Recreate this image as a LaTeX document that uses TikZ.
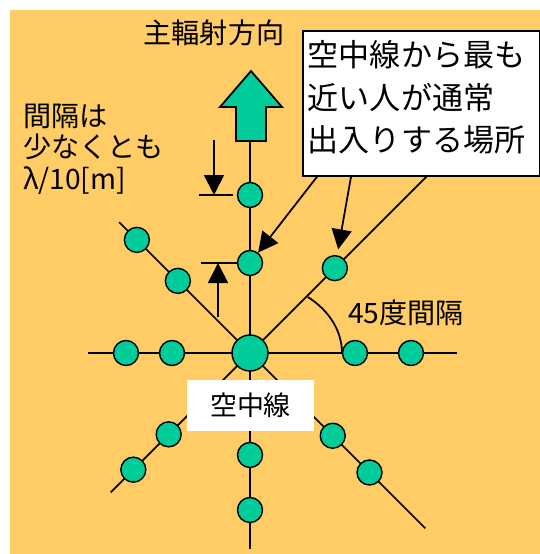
\documentclass[tikz,border=0pt]{standalone}
\usepackage{fontspec}
\setmainfont{Noto Sans CJK JP}
\usetikzlibrary{arrows.meta, calc}
\definecolor{BgOrange}{HTML}{FFCC66}
\definecolor{ElemGreen}{HTML}{00CC99}

\begin{document}
\begin{tikzpicture}[x=0.03cm, y=0.03cm,
            elem/.style={circle, draw=black, fill=ElemGreen, line width=1.2pt, minimum size=0.75cm, inner sep=0pt},
            ray/.style={line width=1.5pt},
            arrow/.style={-{Triangle[length=0.6cm, width=0.6cm]}, line width=1.5pt},
            lbl/.style={inner sep=0pt, font=\fontsize{24}{27}\selectfont},
            note/.style={draw=black, fill=white, line width=1.5pt, inner xsep=0.15cm, inner ysep=0.3cm, anchor=north west}
        ]
            % Background
            \useasboundingbox (0,0) rectangle (540,-554);
            \fill[BgOrange] (10,-10) rectangle (540,-554);
            
            % Rays
            \coordinate (hub) at (250,-353);
            \foreach \ang/\len in {0/207, 45/260, 90/212, 135/185, 180/162, 225/197, 270/196, 315/248}
                \draw[ray] (hub) -- ++(\ang:\len);
            
            % 45 degree arc
            \draw[ray] (hub) ++(92,0) arc[start angle=0, end angle=51, x radius=92, y radius=72];
            
            % Main direction arrow
            \draw[ray, fill=ElemGreen] (236,-141) -- (266,-141) -- (266,-107) -- (282,-107) -- (251,-71) -- (220,-107) -- (236,-107) -- cycle;
            
            % Elements
            \foreach \name/\ang/\r in {t1/90/158, t2/90/90, ne1/45/120, e1/0/105, e2/0/161, w1/180/78, w2/180/124, nw1/135/102, nw2/135/160, sw1/225/115, sw2/225/165, se1/315/117, se2/315/169, s1/270/102, s2/270/157}
                \node[elem] (\name) at ($(hub)+(\ang:\r)$) {};
            \node[elem, minimum size=1.08cm] (ant) at (hub) {};
            
            % Labels
            \node[fill=white, minimum width=3.81cm, minimum height=1.53cm, font=\fontsize{23}{27}\selectfont] (antlbl) at (250.5,-405.5) {空中線};
            \node[note] (note) at (302,-30) {\parbox[t][3.75cm][t]{6.8cm}{\fontsize{26.5}{36}\selectfont 空中線から最も\\近い人が通常\\出入りする場所}};
            \node[lbl] (mainlbl) at (214,-33) {主輻射方向};
            \node[lbl, anchor=west, align=left] (spacing) at (23,-149) {間隔は\\少なくとも\\λ/10[m]};
            \node[lbl, anchor=west] (angle) at (348,-313) {45度間隔};
            
            % Pointers
            \draw[arrow] ($(note.south west)+(15,0)$) -- (t2);
            \draw[arrow, shorten >=5pt] ($(note.south west)+(49,0)$) -- (ne1);
            
            % Spacing marks
            \draw[ray] ($(t1)+(-51,0)$) -- ($(t1)+(-17,0)$);
            \draw[arrow] ($(t1)+(-36,55)$) -- ($(t1)+(-36,0)$);
            \draw[ray] ($(t2)+(-49,0)$) -- ($(t2)+(-12,0)$);
            \draw[arrow] ($(t2)+(-32,-54)$) -- ($(t2)+(-32,0)$);
        \end{tikzpicture}
\end{document}
